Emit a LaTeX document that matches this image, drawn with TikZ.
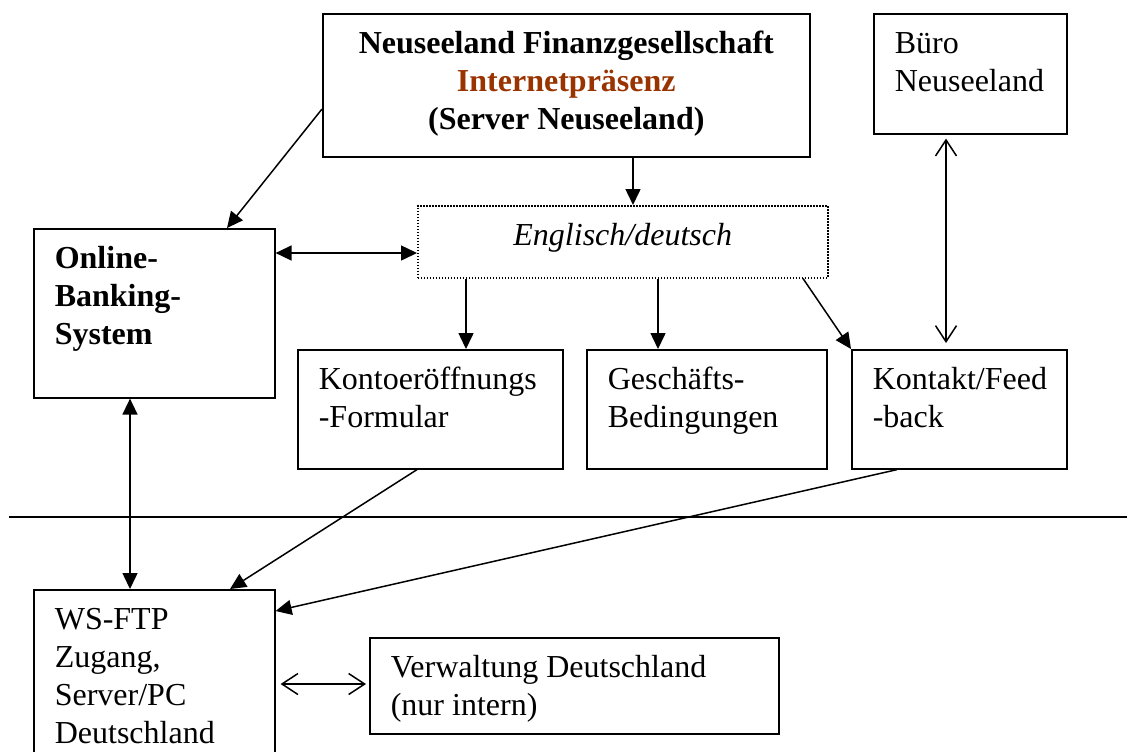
\documentclass[tikz,border=0pt]{standalone}
\usepackage{fontspec}
\setmainfont{Liberation Serif}
\usetikzlibrary{arrows.meta}
\definecolor{brownred}{HTML}{993300}
\tikzset{
  box/.style={draw, line width=0.8pt, inner xsep=10.5pt, inner ysep=6.7pt,
    anchor=north west, font=\fontsize{16}{19}\selectfont},
  dotbox/.style={box, line width=0.75pt, dash pattern=on 0.75pt off 0.75pt},
  conn/.style={line width=0.75pt},
  fa/.style={conn, -{Triangle[length=8pt,width=7.5pt]}},
  fab/.style={conn, {Triangle[length=8pt,width=7.5pt]}-{Triangle[length=8pt,width=7.5pt]}},
  oab/.style={conn, {Straight Barb[length=8pt,width=10.5pt]}-{Straight Barb[length=8pt,width=10.5pt]}},
  rule/.style={line width=0.8pt}
}
\newcommand\bt[3]{\parbox[t][#2][t]{#1}{\strut #3}}
\begin{document}
\begin{tikzpicture}[x=0.5pt,y=-0.5pt]
\useasboundingbox (0,0) rectangle (1127,751);
\clip (0,0) rectangle (1127,751);

\node[box] (top) at (322,13)
  {\bt{222.5pt}{58.1pt}{\centering\bfseries Neuseeland Finanzgesellschaft\\\textcolor{brownred}{Internetpräsenz}\\(Server Neuseeland)}};
\node[box] (buero) at (873,13) {\bt{75.5pt}{46.6pt}{Büro\\Neuseeland}};
\node[dotbox] (lang) at (417,205) {\bt{184pt}{22.6pt}{\centering\itshape Englisch/deutsch}};
\node[box] (online) at (33,228) {\bt{99.5pt}{71.1pt}{\bfseries Online-\\Banking-\\System}};
\node[box] (konto) at (297,349) {\bt{111.5pt}{46.1pt}{Kontoeröffnungs\\-Formular}};
\node[box] (gesch) at (586,349) {\bt{99pt}{46.1pt}{Geschäfts-\\Bedingungen}};
\node[box] (kontakt) at (851,349) {\bt{86.5pt}{46.1pt}{Kontakt/Feed\\-back}};
\node[box] (ws) at (33,589) {\bt{99.5pt}{87.1pt}{WS-FTP\\Zugang,\\Server/PC\\Deutschland}};
\node[box] (verw) at (369,637) {\bt{183.5pt}{34.6pt}{Verwaltung Deutschland\\(nur intern)}};

\coordinate (hl) at (9,517);
\coordinate (hr) at (1127,517);
\draw[rule] (hl) -- (hr);

\draw[fa] (top.west |- 0,109) -- (227,0 |- online.north);
\draw[fa] (633,0 |- top.south) -- (633,0 |- lang.north);
\draw[fab] (online.east |- 0,253) -- (lang.west |- 0,253);
\draw[fa] (466,0 |- lang.south) -- (466,0 |- konto.north);
\draw[fa] (658,0 |- lang.south) -- (658,0 |- gesch.north);
\draw[fa] (803,0 |- lang.south) -- (kontakt.north west);
\draw[oab, shorten <=2pt, shorten >=3pt] (946,0 |- buero.south) -- (946,0 |- kontakt.north);
\draw[fab] (130,0 |- online.south) -- (130,0 |- ws.north);
\draw[fa] (417,0 |- konto.south) -- (230,0 |- ws.north);
\draw[fa] (897,0 |- kontakt.south) -- (ws.east |- 0,611);
\draw[oab, shorten <=2.5pt, shorten >=1.5pt] (ws.east |- 0,684) -- (verw.west |- 0,684);
\end{tikzpicture}
\end{document}
